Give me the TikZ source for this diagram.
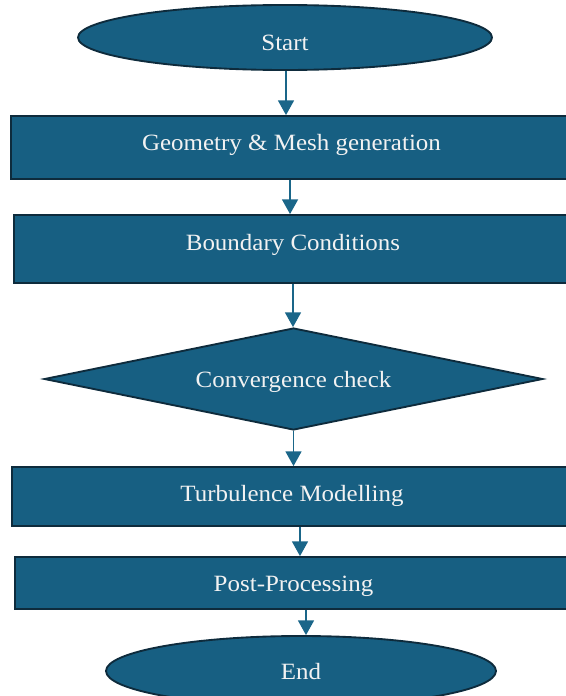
\documentclass[tikz,border=0pt]{standalone}
\usepackage{fontspec}
\setmainfont[FakeStretch=1.07]{Liberation Serif}
\usetikzlibrary{shapes.geometric,arrows.meta}
\definecolor{boxblue}{HTML}{175F82}
\definecolor{boxline}{HTML}{0E2B3C}
\definecolor{arrowblue}{HTML}{1A6689}
\definecolor{textwhite}{HTML}{F2F2F2}
\tikzset{
	stepbase/.style={draw=boxline, line width=1.4pt, fill=boxblue, text=textwhite,
		inner sep=0pt, font=\fontsize{17.5}{20}\selectfont},
	blockbox/.style={stepbase, rectangle},
	ovalbox/.style={stepbase, ellipse},
	checkbox/.style={stepbase, diamond, aspect=4.9},
	flowarrow/.style={draw=arrowblue, line width=1pt, -{Triangle[width=12pt,length=11pt]}}
}
\begin{document}
\begin{tikzpicture}[x=0.75pt,y=-0.75pt]
	\useasboundingbox (0,0) rectangle (566,696);
	\node[ovalbox, minimum width=310.5pt, minimum height=48.75pt, text height=20pt, text depth=0.5pt] (P0) at (285,37.5) {Start};
	\node[blockbox, minimum width=420.75pt, minimum height=47.25pt, text height=13pt, text depth=9.2pt] (P1) at (291.5,147.5) {Geometry \& Mesh generation};
	\node[blockbox, minimum width=418.5pt, minimum height=51pt, text height=13pt, text depth=11.5pt] (P2) at (293,249) {Boundary Conditions};
	\node[checkbox, minimum width=374pt, minimum height=76.5pt, text height=13pt, text depth=1pt] (P3) at (293.5,379) {Convergence check};
	\node[blockbox, minimum width=420pt, minimum height=44.25pt, text height=13pt, text depth=6.2pt] (P4) at (292,496.5) {Turbulence Modelling};
	\node[blockbox, minimum width=417.75pt, minimum height=39pt, text height=13pt, text depth=0pt] (P5) at (293.5,583) {Post-Processing};
	\node[ovalbox, minimum width=292.5pt, minimum height=52.5pt, text height=13pt, text depth=0pt] (P6) at (301,671) {End};
	\draw[flowarrow] ([xshift=0.75pt]P0.south) -- ([xshift=0.75pt]P0.south |- P1.north);
	\draw[flowarrow] ([xshift=-1.1pt]P1.south) -- ([xshift=-1.1pt]P1.south |- P2.north);
	\draw[flowarrow] (P2.south) -- (P2.south |- P3.north);
	\draw[flowarrow] (P3.south) -- (P3.south |- P4.north);
	\draw[flowarrow] ([xshift=6pt]P4.south) -- ([xshift=6pt]P4.south |- P5.north);
	\draw[flowarrow] ([xshift=3.75pt]P6.north |- P5.south) -- ([xshift=3.75pt]P6.north);
\end{tikzpicture}
\end{document}
